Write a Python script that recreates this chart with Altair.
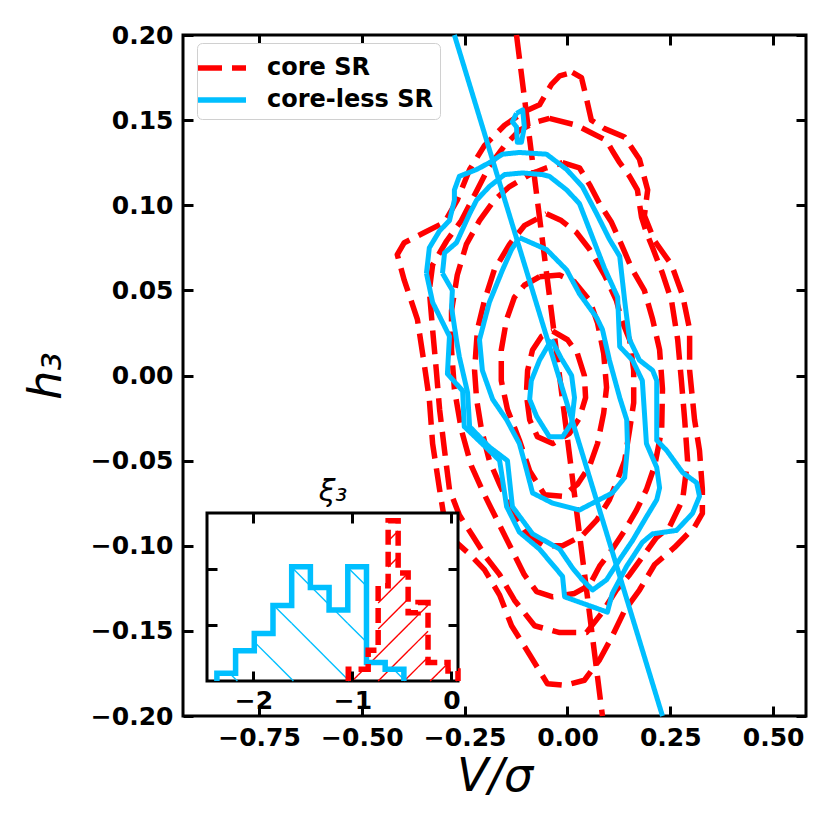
import altair as alt
import pandas as pd

# ------------------------------------------------------------------ data
MODELS = ["core SR", "core-less SR"]
COLORS = ["#ff0000", "#00bfff"]

X_DOMAIN = [-0.935, 0.58]
Y_DOMAIN = [-0.2, 0.2]
X_TICKS = [-0.75, -0.5, -0.25, 0.0, 0.25, 0.5]
Y_TICKS = [-0.2, -0.15, -0.1, -0.05, 0.0, 0.05, 0.1, 0.15, 0.2]

# red dashed contours ("core SR"), outermost first
R1_X = [0.012, 0.034, 0.044, 0.058, 0.090, 0.139, 0.175, 0.195, 0.187, 0.212, 0.253, 0.280, 0.297, 0.297,
        0.309, 0.321, 0.328, 0.328, 0.309, 0.260, 0.212, 0.175, 0.139, 0.107, 0.078, 0.041, -0.007, -0.049,
        -0.092, -0.136, -0.165, -0.202, -0.238, -0.275, -0.299, -0.311, -0.328, -0.336, -0.348, -0.365,
        -0.397, -0.414, -0.397, -0.348, -0.299, -0.268, -0.238, -0.202, -0.153, -0.105, -0.068, -0.039, -0.019]
R1_Y = [0.178, 0.175, 0.165, 0.150, 0.145, 0.140, 0.127, 0.109, 0.094, 0.079, 0.065, 0.047, 0.027, 0.003,
        -0.026, -0.044, -0.067, -0.081, -0.089, -0.101, -0.111, -0.126, -0.138, -0.154, -0.167, -0.179, -0.182,
        -0.181, -0.164, -0.147, -0.129, -0.114, -0.105, -0.097, -0.085, -0.067, -0.040, -0.014, 0.006, 0.033,
        0.056, 0.071, 0.078, 0.084, 0.090, 0.103, 0.121, 0.135, 0.147, 0.155, 0.159, 0.171, 0.176]
R2_X = [-0.044, 0.022, 0.054, 0.095, 0.109, 0.127, 0.151, 0.170, 0.180, 0.192, 0.207, 0.231, 0.253, 0.268,
        0.277, 0.285, 0.292, 0.280, 0.248, 0.217, 0.187, 0.151, 0.119, 0.085, 0.046, -0.019, -0.080, -0.129,
        -0.165, -0.197, -0.231, -0.263, -0.287, -0.299, -0.311, -0.319, -0.328, -0.336, -0.328, -0.294,
        -0.258, -0.226, -0.190, -0.153, -0.117, -0.075]
R2_Y = [0.151, 0.147, 0.143, 0.138, 0.132, 0.125, 0.117, 0.109, 0.093, 0.084, 0.075, 0.060, 0.044, 0.021,
        -0.003, -0.026, -0.050, -0.073, -0.089, -0.095, -0.105, -0.117, -0.126, -0.139, -0.151, -0.151, -0.147,
        -0.132, -0.117, -0.107, -0.094, -0.082, -0.067, -0.044, -0.020, 0.003, 0.027, 0.050, 0.065, 0.079,
        0.091, 0.106, 0.123, 0.135, 0.144, 0.149]
R3_X = [-0.012, 0.029, 0.054, 0.078, 0.107, 0.131, 0.156, 0.187, 0.207, 0.224, 0.231, 0.229, 0.212, 0.192,
        0.168, 0.139, 0.109, 0.078, 0.054, 0.017, -0.036, -0.075, -0.105, -0.136, -0.165, -0.202, -0.234,
        -0.258, -0.275, -0.282, -0.282, -0.268, -0.246, -0.214, -0.178, -0.141, -0.092, -0.051]
R3_Y = [0.125, 0.122, 0.112, 0.101, 0.090, 0.077, 0.063, 0.050, 0.033, 0.015, -0.008, -0.032, -0.053, -0.067,
        -0.079, -0.091, -0.102, -0.112, -0.123, -0.128, -0.130, -0.127, -0.117, -0.102, -0.088, -0.070, -0.053,
        -0.032, -0.008, 0.015, 0.038, 0.059, 0.077, 0.091, 0.103, 0.111, 0.118, 0.122]
R4_X = [-0.051, -0.015, 0.022, 0.054, 0.090, 0.119, 0.131, 0.151, 0.161, 0.161, 0.151, 0.139, 0.122, 0.102,
        0.071, 0.036, -0.012, -0.056, -0.100, -0.136, -0.165, -0.190, -0.209, -0.221, -0.226, -0.219, -0.202,
        -0.178, -0.141, -0.105]
R4_Y = [0.095, 0.091, 0.084, 0.074, 0.059, 0.044, 0.033, 0.021, 0.003, -0.016, -0.032, -0.050, -0.061, -0.073,
        -0.085, -0.094, -0.100, -0.100, -0.093, -0.079, -0.064, -0.050, -0.032, -0.014, 0.003, 0.027, 0.044,
        0.062, 0.077, 0.088]
R5_X = [-0.068, -0.019, 0.017, 0.054, 0.073, 0.088, 0.095, 0.088, 0.073, 0.054, 0.024, -0.012, -0.056, -0.092,
        -0.117, -0.146, -0.161, -0.161, -0.148, -0.129, -0.105]
R5_Y = [0.058, 0.059, 0.055, 0.044, 0.031, 0.013, -0.007, -0.022, -0.040, -0.053, -0.064, -0.071, -0.070,
        -0.056, -0.038, -0.020, -0.003, 0.015, 0.033, 0.046, 0.053]
R6_X = [-0.036, 0.000, 0.024, 0.041, 0.044, 0.029, 0.005, -0.036, -0.073, -0.092, -0.100, -0.097, -0.085, -0.063]
R6_Y = [0.026, 0.021, 0.013, 0.000, -0.013, -0.025, -0.034, -0.040, -0.036, -0.026, -0.011, 0.003, 0.015, 0.023]

# blue solid contours ("core-less SR"), outermost first
B1_X = [-0.343, -0.336, -0.311, -0.287, -0.275, -0.275, -0.263, -0.221, -0.190, -0.158, -0.117, -0.051, -0.002,
        0.036, 0.071, 0.102, 0.127, 0.139, 0.151, 0.175, 0.207, 0.217, 0.217, 0.241, 0.280, 0.314, 0.321, 0.304,
        0.265, 0.207, 0.182, 0.144, 0.109, 0.097, -0.007, -0.012, -0.068, -0.117, -0.148, -0.165, -0.182,
        -0.251, -0.255, -0.292, -0.287, -0.328]
B1_Y = [0.060, 0.075, 0.085, 0.091, 0.103, 0.109, 0.117, 0.121, 0.125, 0.130, 0.131, 0.130, 0.121, 0.111, 0.095,
        0.080, 0.070, 0.044, 0.021, 0.009, 0.003, -0.003, -0.038, -0.044, -0.057, -0.063, -0.071, -0.081, -0.091,
        -0.093, -0.098, -0.112, -0.128, -0.139, -0.130, -0.118, -0.102, -0.092, -0.077, -0.050, -0.046, -0.030,
        -0.009, 0.001, 0.023, 0.043]
B2_X = [-0.304, -0.299, -0.270, -0.238, -0.221, -0.190, -0.153, -0.109, -0.061, -0.044, -0.002, 0.029, 0.061,
        0.090, 0.122, 0.127, 0.158, 0.182, 0.192, 0.217, 0.224, 0.217, 0.192, 0.158, 0.127, 0.095, 0.061, 0.036,
        0.012, -0.019, -0.085, -0.134, -0.146, -0.190, -0.238, -0.243, -0.263, -0.270, -0.282, -0.280]
B2_Y = [0.060, 0.072, 0.078, 0.095, 0.103, 0.111, 0.118, 0.119, 0.118, 0.117, 0.109, 0.101, 0.081, 0.063, 0.046,
        0.017, 0.009, -0.003, -0.040, -0.054, -0.066, -0.073, -0.083, -0.097, -0.108, -0.120, -0.126, -0.120,
        -0.113, -0.102, -0.093, -0.077, -0.050, -0.042, -0.030, -0.010, 0.011, 0.021, 0.040, 0.050]
B3_X = [-0.117, -0.051, -0.002, 0.029, 0.071, 0.085, 0.102, 0.127, 0.144, 0.146, 0.139, 0.109, 0.061, 0.029,
        -0.036, -0.085, -0.100, -0.117, -0.148, -0.182, -0.207, -0.214, -0.190, -0.158, -0.136]
B3_Y = [0.081, 0.074, 0.062, 0.048, 0.034, 0.027, 0.009, -0.013, -0.026, -0.042, -0.060, -0.069, -0.075, -0.079,
        -0.075, -0.069, -0.055, -0.040, -0.026, -0.014, 0.003, 0.021, 0.043, 0.062, 0.074]
B4_X = [-0.039, -0.015, 0.010, 0.017, 0.010, -0.012, -0.044, -0.075, -0.092, -0.088, -0.068]
B4_Y = [0.021, 0.010, 0.000, -0.013, -0.028, -0.036, -0.036, -0.024, -0.014, -0.003, 0.009]
B5_X = [-0.124, -0.109, -0.105, -0.112, -0.122, -0.124, -0.134]
B5_Y = [0.154, 0.156, 0.146, 0.137, 0.137, 0.146, 0.149]

# straight relations
RED_LINE_X = [-0.124, 0.085]
RED_LINE_Y = [0.2, -0.2]
BLUE_LINE_X = [-0.275, 0.231]
BLUE_LINE_Y = [0.2, -0.2]

# inset: xi_3 histograms
INSET_X_DOMAIN = [-2.47, 0.067]
INSET_Y_DOMAIN = [0.0, 3.0]
INSET_X_TICKS = [-2, -1, 0]
INSET_Y_TICKS = [1, 2]
BLUE_EDGES = [-2.370, -2.181, -1.992, -1.803, -1.614, -1.425, -1.236, -1.047, -0.858, -0.669, -0.480]
BLUE_HEIGHTS = [0.14, 0.54, 0.85, 1.35, 2.04, 1.67, 1.27, 2.04, 0.33, 0.21]
RED_EDGES = [-1.042, -0.942, -0.841, -0.740, -0.639, -0.538, -0.437, -0.337, -0.236, -0.135, -0.034, 0.067]
RED_HEIGHTS = [0.21, 0.21, 0.55, 1.70, 2.86, 1.93, 1.22, 1.40, 0.33, 0.33, 0.18]

# ------------------------------------------------------------------ layout / style
W, H = 623, 681
TICK = 10
INSET_PX_X = [24, 275]
INSET_PX_Y = [646, 478]
FONT = "DejaVu Sans"
MAIN_DASH = [24, 10]
INSET_DASH = [15, 7]
BLUE_HATCH = dict(x0=-1.597, spacing_px=56, direction="back")
RED_HATCH = dict(x0=-0.740, spacing_px=26, direction="fwd")

SX = (INSET_PX_X[1] - INSET_PX_X[0]) / (INSET_X_DOMAIN[1] - INSET_X_DOMAIN[0])
SY = (INSET_PX_Y[0] - INSET_PX_Y[1]) / (INSET_Y_DOMAIN[1] - INSET_Y_DOMAIN[0])


def contour_rows(xs, ys, cid, model, closed=True):
    pts = list(zip(xs, ys))
    if closed:
        pts.append(pts[0])
    return [dict(x=x, y=y, cid=cid, model=model, i=i) for i, (x, y) in enumerate(pts)]


red_rows = []
for k, (xs, ys) in enumerate([(R1_X, R1_Y), (R2_X, R2_Y), (R3_X, R3_Y), (R4_X, R4_Y), (R5_X, R5_Y), (R6_X, R6_Y)]):
    red_rows += contour_rows(xs, ys, f"r{k}", MODELS[0])
red_rows += contour_rows(RED_LINE_X, RED_LINE_Y, "rline", MODELS[0], closed=False)
blue_rows = []
for k, (xs, ys) in enumerate([(B1_X, B1_Y), (B2_X, B2_Y), (B3_X, B3_Y), (B4_X, B4_Y), (B5_X, B5_Y)]):
    blue_rows += contour_rows(xs, ys, f"b{k}", MODELS[1])
blue_rows += contour_rows(BLUE_LINE_X, BLUE_LINE_Y, "bline", MODELS[1], closed=False)
df_red = pd.DataFrame(red_rows)
df_blue = pd.DataFrame(blue_rows)


def step_outline(edges, heights):
    pts = [(edges[0], 0.0)]
    for j, h in enumerate(heights):
        pts.append((edges[j], h))
        pts.append((edges[j + 1], h))
    pts.append((edges[-1], 0.0))
    return pd.DataFrame([dict(x=x, y=y, i=i) for i, (x, y) in enumerate(pts)])


def hatch_segments(edges, heights, x0, spacing_px, direction, color):
    d = spacing_px / SX
    rows = []
    for k in range(-60, 61):
        xi = x0 + k * d
        for j, h in enumerate(heights):
            a, b = edges[j], edges[j + 1]
            if direction == "back":   # "\" : y = (xi - x) * SX / SY
                lo, hi = xi - h * SY / SX, xi
                f = lambda x: (xi - x) * SX / SY
            else:                     # "/" : y = (x - xi) * SX / SY
                lo, hi = xi, xi + h * SY / SX
                f = lambda x: (x - xi) * SX / SY
            xa, xb = max(a, lo), min(b, hi)
            if xb - xa > 1e-6:
                rows.append(dict(x=xa, y=f(xa), x2=xb, y2=f(xb), col=color))
    return rows


df_hatch = pd.DataFrame(
    hatch_segments(BLUE_EDGES, BLUE_HEIGHTS, color=COLORS[1], **BLUE_HATCH)
    + hatch_segments(RED_EDGES, RED_HEIGHTS, color=COLORS[0], **RED_HATCH)
)
df_hist_b = step_outline(BLUE_EDGES, BLUE_HEIGHTS)
df_hist_r = step_outline(RED_EDGES, RED_HEIGHTS)
df_bg = pd.DataFrame([dict(x0=INSET_X_DOMAIN[0], x1=INSET_X_DOMAIN[1], y0=INSET_Y_DOMAIN[0], y1=INSET_Y_DOMAIN[1])])


# ------------------------------------------------------------------ scales / axes
def lab_expr(fmt):
    return "replace(format(datum.value, '%s'), '-', '\u2212')" % fmt


tick_style = dict(domain=False, grid=False, ticks=True, tickSize=TICK, tickWidth=3, tickColor="black", zindex=1)
label_style = dict(labelFont=FONT, labelFontSize=25, labelFontWeight="bold", labelColor="black",
                   labelFlush=False, labelOverlap=False)

main_xs = alt.Scale(domain=X_DOMAIN, nice=False, zero=False)
main_ys = alt.Scale(domain=Y_DOMAIN, nice=False, zero=False)
inset_xs = alt.Scale(domain=INSET_X_DOMAIN, range=INSET_PX_X, nice=False, zero=False)
inset_ys = alt.Scale(domain=INSET_Y_DOMAIN, range=INSET_PX_Y, nice=False, zero=False)

ax_main_bottom = alt.Axis(orient="bottom", values=X_TICKS, offset=-TICK, labelExpr=lab_expr(".2f"),
                          labelPadding=9, title="V/σ", titleFont=FONT, titleFontSize=46,
                          titleFontStyle="italic", titleFontWeight="normal", titleColor="black",
                          titlePadding=4, **tick_style, **label_style)
ax_main_left = alt.Axis(orient="left", values=Y_TICKS, offset=-TICK, labelExpr=lab_expr(".2f"),
                        labelPadding=10, title="h₃", titleFont=FONT, titleFontSize=46,
                        titleFontStyle="italic", titleFontWeight="normal", titleColor="black",
                        titlePadding=20, **tick_style, **label_style)
ax_main_top = alt.Axis(orient="top", values=X_TICKS, offset=-TICK, labels=False, title=None, **tick_style)
ax_main_right = alt.Axis(orient="right", values=Y_TICKS, offset=-TICK, labels=False, title=None, **tick_style)

ax_in_bottom = alt.Axis(orient="bottom", values=INSET_X_TICKS, offset=(INSET_PX_Y[0] - TICK) - H,
                        labelExpr=lab_expr(".0f"), labelPadding=7, title=None, **tick_style, **label_style)
ax_in_left = alt.Axis(orient="left", values=INSET_Y_TICKS, offset=-(INSET_PX_X[0] + TICK), labels=False,
                      title=None, **tick_style)
ax_in_top = alt.Axis(orient="top", values=INSET_X_TICKS, offset=-(INSET_PX_Y[1] + TICK), labels=False,
                     title="ξ₃", titleFont=FONT, titleFontSize=30, titleFontStyle="italic",
                     titleFontWeight="normal", titleColor="black", titlePadding=5, **tick_style)
ax_in_right = alt.Axis(orient="right", values=INSET_Y_TICKS, offset=(INSET_PX_X[1] - TICK) - W, labels=False,
                       title=None, **tick_style)

leg = alt.Legend(title=None, orient="none", legendX=14, legendY=8, symbolType="M-1.6,0H1.6",
                 symbolSize=900, symbolStrokeWidth=5.5, labelFont=FONT, labelFontSize=24,
                 labelFontWeight="bold", labelColor="black", labelOffset=27, labelLimit=400,
                 rowPadding=2, padding=7,
                 fillColor="white", strokeColor="#d0d0d0", cornerRadius=5, zindex=1)
color_enc = alt.Color("model:N", scale=alt.Scale(domain=MODELS, range=COLORS), legend=leg)
dash_enc = alt.StrokeDash("model:N", scale=alt.Scale(domain=MODELS, range=[MAIN_DASH, [1, 0]]), legend=leg)

# ------------------------------------------------------------------ layers
red = alt.Chart(df_red).mark_line(strokeWidth=5.5, strokeCap="butt", strokeJoin="round").encode(
    x=alt.X("x:Q", scale=main_xs, axis=ax_main_bottom),
    y=alt.Y("y:Q", scale=main_ys, axis=ax_main_left),
    color=color_enc, strokeDash=dash_enc, detail="cid:N", order="i:Q",
)
blue = alt.Chart(df_blue).mark_line(strokeWidth=5, strokeCap="butt", strokeJoin="round").encode(
    x=alt.X("x:Q", scale=main_xs, axis=ax_main_top),
    y=alt.Y("y:Q", scale=main_ys, axis=ax_main_right),
    color=color_enc, strokeDash=dash_enc, detail="cid:N", order="i:Q",
)
bg = alt.Chart(df_bg).mark_rect(fill="white", stroke="black", strokeWidth=3).encode(
    x=alt.X("x0:Q", scale=inset_xs, axis=None), x2="x1:Q",
    y=alt.Y("y0:Q", scale=inset_ys, axis=None), y2="y1:Q",
)
hatch = alt.Chart(df_hatch).mark_rule(strokeWidth=1.4).encode(
    x=alt.X("x:Q", scale=inset_xs, axis=ax_in_bottom), x2="x2:Q",
    y=alt.Y("y:Q", scale=inset_ys, axis=ax_in_left), y2="y2:Q",
    color=alt.Color("col:N", scale=None),
)
hist_b = alt.Chart(df_hist_b).mark_line(color=COLORS[1], strokeWidth=5.5, strokeJoin="miter", strokeCap="butt").encode(
    x=alt.X("x:Q", scale=inset_xs, axis=ax_in_top),
    y=alt.Y("y:Q", scale=inset_ys, axis=ax_in_right),
    order="i:Q",
)
hist_r = alt.Chart(df_hist_r).mark_line(color=COLORS[0], strokeWidth=5.5, strokeDash=INSET_DASH,
                                        strokeJoin="miter", strokeCap="butt").encode(
    x=alt.X("x:Q", scale=inset_xs, axis=None),
    y=alt.Y("y:Q", scale=inset_ys, axis=None),
    order="i:Q",
)

chart = (
    alt.layer(red, blue, bg, hatch, hist_b, hist_r)
    .resolve_scale(x="independent", y="independent")
    .resolve_axis(x="independent", y="independent")
    .properties(width=W, height=H, padding={"left": 175, "top": 27, "right": 16, "bottom": 100},
                autosize=alt.AutoSizeParams(type="none"))
    .configure_view(stroke="black", strokeWidth=3)
)

chart.save("out.html", embed_options={"renderer": "svg", "actions": False})
